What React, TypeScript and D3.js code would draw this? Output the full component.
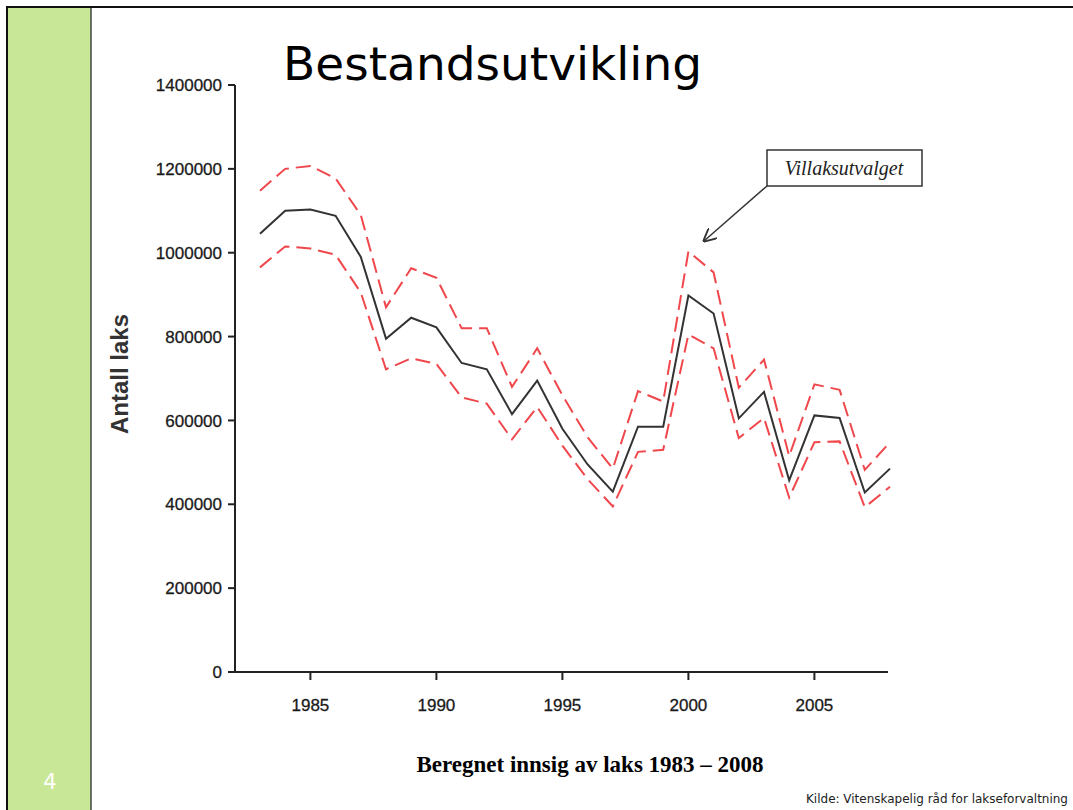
import React from 'react';
import * as d3 from 'd3';

// estimated salmon run, 1983-2008
const years = d3.range(1983, 2009);
const estimate = [
  1045000, 1100000, 1103000, 1088000, 990000, 795000, 845000, 822000, 737000, 722000,
  615000, 695000, 580000, 495000, 430000, 585000, 585000, 898000, 855000, 605000,
  668000, 457000, 612000, 606000, 428000, 485000,
];
const upper = [
  1148000, 1200000, 1207000, 1177000, 1090000, 870000, 963000, 940000, 820000, 820000,
  680000, 772000, 660000, 560000, 485000, 670000, 645000, 1003000, 953000, 678000,
  745000, 515000, 686000, 673000, 482000, 548000,
];
const lower = [
  965000, 1015000, 1010000, 995000, 905000, 722000, 748000, 735000, 655000, 640000,
  555000, 632000, 540000, 460000, 395000, 525000, 530000, 805000, 772000, 558000,
  606000, 416000, 548000, 550000, 393000, 442000,
];
const yTicks = [0, 200000, 400000, 600000, 800000, 1000000, 1200000, 1400000];
const xTicks = [1985, 1990, 1995, 2000, 2005];

const W = 1073;
const H = 810;

const App = () => {
  const x = d3.scaleLinear().domain([1983, 2008]).range([260, 890]);
  const y = d3.scaleLinear().domain([0, 1400000]).range([672, 85]);

  const line = d3.line<number>()
    .x((d, i) => x(years[i]))
    .y(d => y(d));

  const axisFont = 'Liberation Sans, Arial, sans-serif';

  return (
    <svg width={W} height={H} style={{ position: 'absolute', left: 0, top: 0, background: '#fff' }}>
      {/* slide frame + green side bar */}
      <rect x={8} y={8} width={83} height={H} fill="#c9e897" />
      <line x1={91} y1={8} x2={91} y2={H} stroke="#444" strokeWidth={1.5} />
      <rect x={7} y={7} width={W + 10} height={H + 10} fill="none" stroke="#111" strokeWidth={2} />
      <text x={50} y={789} fill="#fff" fontFamily="DejaVu Sans, sans-serif" fontSize={21} textAnchor="middle">4</text>

      {/* title */}
      <text x={283} y={80} fontFamily="DejaVu Sans, Verdana, sans-serif" fontSize={47} fill="#000">Bestandsutvikling</text>

      {/* y axis */}
      <line x1={235} y1={y(1400000)} x2={235} y2={y(0) + 1} stroke="#222" strokeWidth={2} />
      {yTicks.map(t => (
        <g key={t}>
          <line x1={228} x2={235} y1={y(t)} y2={y(t)} stroke="#222" strokeWidth={2} />
          <text x={222} y={y(t)} dy="0.36em" textAnchor="end" fontFamily={axisFont} fontSize={17}
            fill="#1a1a1a" stroke="#1a1a1a" strokeWidth={0.3}>{t}</text>
        </g>
      ))}
      <text transform={`translate(128,374) rotate(-90)`} textAnchor="middle" fontFamily={axisFont}
        fontWeight="bold" fontSize={24} fill="#333">Antall laks</text>

      {/* x axis */}
      <line x1={234} x2={888} y1={y(0)} y2={y(0)} stroke="#222" strokeWidth={2} />
      {xTicks.map(t => (
        <g key={t}>
          <line x1={x(t)} x2={x(t)} y1={y(0)} y2={y(0) + 8} stroke="#222" strokeWidth={2} />
          <text x={x(t)} y={711} textAnchor="middle" fontFamily={axisFont} fontSize={17}
            fill="#1a1a1a" stroke="#1a1a1a" strokeWidth={0.3}>{t}</text>
        </g>
      ))}

      {/* series */}
      <path d={line(upper) || ''} fill="none" stroke="#f0474c" strokeWidth={2} strokeDasharray="15,7" />
      <path d={line(lower) || ''} fill="none" stroke="#f0474c" strokeWidth={2} strokeDasharray="15,7" />
      <path d={line(estimate) || ''} fill="none" stroke="#333" strokeWidth={2} />

      {/* annotation */}
      <defs>
        <marker id="arr" viewBox="0 0 10 10" refX={9} refY={5} markerWidth={9} markerHeight={9} orient="auto">
          <path d="M0,0 L10,5 L0,10" fill="none" stroke="#333" strokeWidth={1.4} />
        </marker>
      </defs>
      <rect x={767} y={150} width={155} height={36} fill="#fff" stroke="#333" strokeWidth={1.5} />
      <text x={844} y={175} textAnchor="middle" fontFamily="Liberation Serif, Times New Roman, serif"
        fontStyle="italic" fontSize={20} fill="#222">Villaksutvalget</text>
      <line x1={767} y1={186} x2={704} y2={241} stroke="#333" strokeWidth={1.5} markerEnd="url(#arr)" />

      {/* captions */}
      <text x={590} y={772} textAnchor="middle" fontFamily="Liberation Serif, Times New Roman, serif"
        fontWeight="bold" fontSize={23} fill="#000">Beregnet innsig av laks 1983 – 2008</text>
      <text x={806} y={803} fontFamily="DejaVu Sans Condensed, DejaVu Sans, sans-serif" fontSize={12}
        textLength={262} lengthAdjust="spacingAndGlyphs" fill="#222">Kilde: Vitenskapelig råd for lakseforvaltning</text>
    </svg>
  );
};

export default App;
